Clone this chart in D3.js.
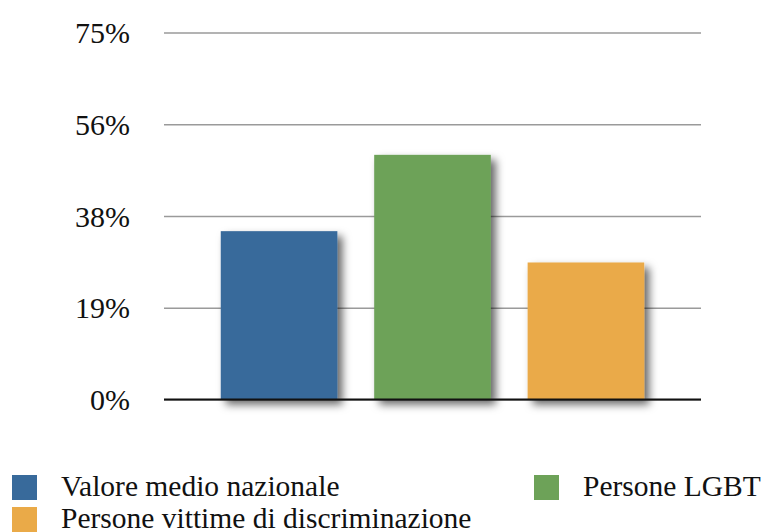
<!DOCTYPE html>
<html>
<head>
<meta charset="utf-8">
<script src="https://cdn.jsdelivr.net/npm/d3@7"></script>
<style>
  body { margin: 0; background: #fff; }
  svg text { font-family: "Liberation Serif", "DejaVu Serif", serif; fill: #111; }
</style>
</head>
<body>
<div id="chart"></div>
<script>
// dati
var categorie = ["Valore medio nazionale", "Persone LGBT", "Persone vittime di discriminazione"];
var valori = [34.4, 50, 28];
var colori = ["#386a9b", "#6da258", "#eaaa48"];
var tickValori = [0, 18.75, 37.5, 56.25, 75];
var tickEtichette = ["0%", "19%", "38%", "56%", "75%"];

var width = 768, height = 532;
var plot = { left: 164, right: 701, top: 32.5, bottom: 399.5 };

var svg = d3.select("#chart").append("svg")
  .attr("width", width)
  .attr("height", height);

// ombra sotto le barre
var defs = svg.append("defs");
var f = defs.append("filter").attr("id", "ombra")
  .attr("x", "-20%").attr("y", "-20%").attr("width", "150%").attr("height", "150%");
f.append("feDropShadow")
  .attr("dx", 5).attr("dy", 5).attr("stdDeviation", 4)
  .attr("flood-color", "#000").attr("flood-opacity", 0.6);

var y = d3.scaleLinear().domain([0, 75]).range([plot.bottom, plot.top]);
var x = d3.scaleBand().domain(categorie)
  .range([plot.left, plot.right])
  .paddingInner(0.24).paddingOuter(0.37);

// griglia
var yAxis = d3.axisLeft(y)
  .tickValues(tickValori)
  .tickSize(-(plot.right - plot.left))
  .tickFormat(function(d, i) { return tickEtichette[i]; });

var gAxis = svg.append("g")
  .attr("transform", "translate(" + plot.left + ",0)")
  .call(yAxis);
gAxis.select(".domain").remove();
gAxis.selectAll(".tick line")
  .attr("stroke", "#9a9a9a")
  .attr("stroke-width", 1.5);
gAxis.selectAll(".tick text")
  .attr("x", -34)
  .attr("dy", "0.34em")
  .style("font-size", "30px")
  .style("font-family", "'Liberation Serif', serif")
  .attr("fill", "#111");

// barre
svg.append("g").selectAll("rect")
  .data(valori)
  .enter()
  .append("rect")
  .attr("x", function(d, i) { return x(categorie[i]); })
  .attr("y", function(d) { return y(d); })
  .attr("width", x.bandwidth())
  .attr("height", function(d) { return y(0) - y(d); })
  .attr("fill", function(d, i) { return colori[i]; })
  .attr("filter", "url(#ombra)");

// linea dello zero
svg.append("line")
  .attr("x1", plot.left).attr("x2", plot.right)
  .attr("y1", y(0)).attr("y2", y(0))
  .attr("stroke", "#111")
  .attr("stroke-width", 2);

// legenda
var legendaPos = [
  { x: 12, y: 475 },
  { x: 534, y: 475 },
  { x: 12, y: 507 }
];
var leg = svg.append("g").selectAll("g")
  .data(categorie)
  .enter()
  .append("g")
  .attr("transform", function(d, i) {
    return "translate(" + legendaPos[i].x + "," + legendaPos[i].y + ")";
  });
leg.append("rect")
  .attr("width", 25)
  .attr("height", 25)
  .attr("fill", function(d, i) { return colori[i]; });
leg.append("text")
  .attr("x", 49)
  .attr("y", 21)
  .style("font-size", "29.5px")
  .text(function(d) { return d; });
</script>
</body>
</html>
